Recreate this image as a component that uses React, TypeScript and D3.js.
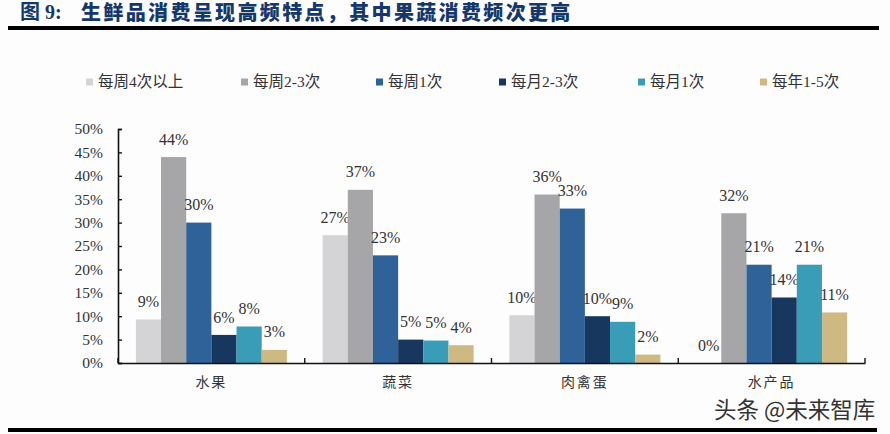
import { useEffect, useRef } from "react";
import * as d3 from "d3";

const categories = ["水果", "蔬菜", "肉禽蛋", "水产品"];
const seriesNames = ["每周4次以上", "每周2-3次", "每周1次", "每月2-3次", "每月1次", "每年1-5次"];
const seriesColors = ["#d4d4d7", "#a6a5a8", "#2f6299", "#17375f", "#3a9db8", "#cfb983"];

const weekly4Plus = [9.3, 27.3, 10.2, 0];
const weekly2to3 = [44, 37, 36, 32];
const weekly1 = [30, 23, 33, 21];
const monthly2to3 = [6, 5, 10, 14];
const monthly1 = [7.8, 4.8, 8.8, 21];
const yearly1to5 = [2.8, 3.8, 1.8, 10.8];
const allSeries = [weekly4Plus, weekly2to3, weekly1, monthly2to3, monthly1, yearly1to5];

const yTicks = [0, 5, 10, 15, 20, 25, 30, 35, 40, 45, 50];
const legendX = [86, 241, 376, 499, 638, 760];

const serif = "'Liberation Serif', 'Noto Sans CJK SC', serif";
const cjk = "'Noto Sans CJK SC', sans-serif";

export default function App() {
    const svgRef = useRef<SVGSVGElement | null>(null);

    useEffect(() => {
        if (!svgRef.current) return;
        const svg = d3.select(svgRef.current);
        svg.selectAll("*").remove();

        svg.append("rect").attr("width", 890).attr("height", 434).attr("fill", "#fdfdfe");

        // Title and rules
        svg.append("text")
            .attr("x", 20)
            .attr("y", 19)
            .attr("font-family", serif)
            .attr("font-size", 20)
            .attr("font-weight", 700)
            .attr("fill", "#14386b")
            .text("图 9:");
        svg.append("text")
            .attr("x", 81)
            .attr("y", 20)
            .attr("font-family", cjk)
            .attr("font-size", 20)
            .attr("font-weight", 900)
            .attr("letter-spacing", "2.35px")
            .attr("fill", "#14386b")
            .text("生鲜品消费呈现高频特点\uFF0C其中果蔬消费频次更高");
        svg.append("rect").attr("x", 8).attr("y", 26).attr("width", 871).attr("height", 4).attr("fill", "#000");
        svg.append("rect").attr("x", 8).attr("y", 428).attr("width", 869).attr("height", 4).attr("fill", "#000");

        // Legend
        const legend = svg.selectAll(".legend").data(seriesNames).enter().append("g")
            .attr("class", "legend")
            .attr("transform", (_, i) => `translate(${legendX[i]},82)`);
        legend.append("rect")
            .attr("y", -3.5)
            .attr("width", 7)
            .attr("height", 7)
            .attr("fill", (_, i) => seriesColors[i]);
        legend.append("text")
            .attr("x", 12)
            .attr("dy", "0.35em")
            .attr("font-family", serif)
            .attr("font-size", 15.5)
            .attr("fill", "#333")
            .text((d) => d);

        // Scales
        const x = d3.scaleBand().domain(categories).range([118, 865]);
        const barGroup = d3.scaleBand()
            .domain(seriesNames)
            .range([0, x.bandwidth()])
            .paddingOuter(0.71)
            .paddingInner(0);
        const y = d3.scaleLinear().domain([0, 50]).range([363, 129]);

        // Bars
        const groups = svg.selectAll(".group").data(categories).enter().append("g")
            .attr("class", "group")
            .attr("transform", (d) => `translate(${x(d)},0)`);
        seriesNames.forEach((name, s) => {
            groups.append("rect")
                .attr("x", barGroup(name) || 0)
                .attr("width", barGroup.bandwidth())
                .attr("y", (_, c) => y(allSeries[s][c]))
                .attr("height", (_, c) => 363 - y(allSeries[s][c]))
                .attr("fill", seriesColors[s]);
            groups.append("text")
                .attr("x", (barGroup(name) || 0) + barGroup.bandwidth() / 2)
                .attr("y", (_, c) => y(allSeries[s][c]) - 18)
                .attr("dy", "0.35em")
                .attr("text-anchor", "middle")
                .attr("font-family", serif)
                .attr("font-size", 16)
                .attr("fill", "#333")
                .text((_, c) => `${Math.round(allSeries[s][c])}%`);
        });

        // Axes
        const yAxis = svg.append("g")
            .attr("transform", "translate(118,0)")
            .call(d3.axisLeft(y).tickValues(yTicks).tickSize(-4).tickPadding(15).tickFormat((d) => `${d}%`));
        yAxis.select(".domain").attr("stroke", "#111").attr("stroke-width", 1.6);
        yAxis.selectAll("line").attr("stroke", "#111").attr("stroke-width", 1.4);
        yAxis.selectAll("text").attr("font-family", serif).attr("font-size", 15.5).attr("fill", "#333");

        const xAxis = svg.append("g")
            .attr("transform", "translate(0,363)")
            .call(d3.axisBottom(x).tickSize(0).tickPadding(14));
        xAxis.select(".domain").attr("stroke", "#111").attr("stroke-width", 1.6);
        xAxis.selectAll("text")
            .attr("font-family", serif)
            .attr("font-size", 14)
            .attr("letter-spacing", "2px")
            .attr("fill", "#333");
        // Boundary ticks between the categories, pointing up
        xAxis.selectAll(".boundary").data([...categories.map((c) => x(c) || 0), 865]).enter().append("line")
            .attr("class", "boundary")
            .attr("x1", (d) => d)
            .attr("x2", (d) => d)
            .attr("y1", 0)
            .attr("y2", -5)
            .attr("stroke", "#111")
            .attr("stroke-width", 1.4);

        // Watermark
        svg.append("text")
            .attr("x", 714)
            .attr("y", 418)
            .attr("font-family", cjk)
            .attr("font-size", 22.5)
            .attr("fill", "#333")
            .text("头条 @未来智库");
    }, []);

    return (
        <svg
            ref={svgRef}
            width={890}
            height={434}
            style={{ position: "absolute", left: 0, top: 0 }}
        />
    );
}
